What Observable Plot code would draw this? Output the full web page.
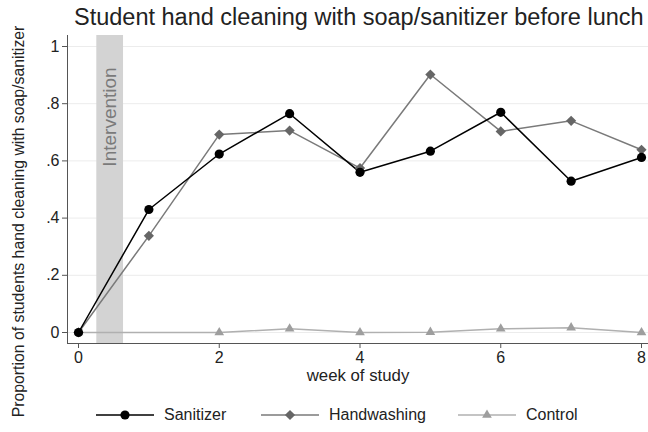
<!DOCTYPE html>
<html><head><meta charset="utf-8">
<script src="https://cdn.jsdelivr.net/npm/d3@7"></script>
<script src="https://cdn.jsdelivr.net/npm/@observablehq/plot@0.6"></script>
<style>
body{margin:0;background:#fff;font-family:"Liberation Sans",Arial,sans-serif;}
#wrap{position:relative;width:648px;height:432px;overflow:hidden;background:#fff}
#title{position:absolute;left:74px;top:3px;font-size:23.5px;color:#222;white-space:nowrap;line-height:28px}
#legend{position:absolute;top:403px;left:0;width:648px;height:24px;font-size:16px;color:#222}
.item{position:absolute;top:0;height:24px;display:flex;align-items:center}
.item svg{margin-right:10px}
</style></head><body>
<div id="wrap"><div id="chart"></div><div id="title"></div><div id="legend"></div></div>
<script>
const titleText = "Student hand cleaning with soap/sanitizer before lunch";
const yLabel = "Proportion of students hand cleaning with soap/sanitizer";
const xLabel = "week of study";
const weeks = [0,1,2,3,4,5,6,7,8];
const sanitizer = [0,0.43,0.624,0.765,0.56,0.634,0.770,0.529,0.612];
const handwashing = [0,0.338,0.692,0.706,0.575,0.902,0.703,0.740,0.639];
const controlWeeks = [0,2,3,4,5,6,7,8];
const control = [0,0,0.013,0,0.001,0.013,0.017,0];
const yTicks = [0,0.2,0.4,0.6,0.8,1];
const yTickLabels = ["0",".2",".4",".6",".8","1"];
const xTicks = [0,2,4,6,8];
const intervention = [{start:0.26,end:0.64,label:"Intervention",mid:0.7535}];
const series = ["Sanitizer","Handwashing","Control"];

const styles = {
  Sanitizer:{line:"#000",fill:"#000",symbol:"circle",r:4.6},
  Handwashing:{line:"#7a7a7a",fill:"#666",symbol:"diamond2",r:4.6},
  Control:{line:"#b0b0b0",fill:"#9e9e9e",symbol:"triangle",r:3.6}
};

const rows = [];
weeks.forEach((w,i)=>rows.push({week:w,value:sanitizer[i],group:"Sanitizer"}));
weeks.forEach((w,i)=>rows.push({week:w,value:handwashing[i],group:"Handwashing"}));
controlWeeks.forEach((w,i)=>rows.push({week:w,value:control[i],group:"Control"}));

const layerMarks = [];
for (const g of ["Control","Handwashing","Sanitizer"]) {
  const d = rows.filter(r=>r.group===g), s = styles[g];
  layerMarks.push(Plot.line(d,{x:"week",y:"value",stroke:s.line,strokeWidth:1.5}));
}
for (const g of ["Control","Handwashing","Sanitizer"]) {
  const d = rows.filter(r=>r.group===g), s = styles[g];
  layerMarks.push(Plot.dot(d,{x:"week",y:"value",symbol:()=>s.symbol,fill:s.fill,stroke:"none",r:s.r}));
}

const chart = Plot.plot({
  width:648, height:432,
  marginLeft:67, marginRight:0, marginTop:35, marginBottom:89,
  x:{domain:[0,8], range:[78,641]},
  y:{domain:[0,1], range:[332,46]},
  symbol:{domain:["circle","diamond2","triangle"],range:["circle","diamond2","triangle"]},
  style:{fontFamily:"'Liberation Sans', Arial, sans-serif", fontSize:"16px", color:"#222", background:"white"},
  marks:[
    Plot.ruleY(yTicks,{stroke:"#ececec",strokeWidth:1}),
    Plot.rect(intervention,{x1:"start",x2:"end",fill:"#d3d3d3"}),
    Plot.text(intervention,{x:d=>(d.start+d.end)/2,y:"mid",text:"label",rotate:-90,fill:"#7a7a7a",fontSize:19}),
    Plot.frame({anchor:"left",stroke:"#555"}),
    Plot.frame({anchor:"bottom",stroke:"#555"}),
    Plot.axisY({ticks:yTicks,tickFormat:d=>yTickLabels[yTicks.indexOf(d)],tickSize:5,tickPadding:3,label:null,stroke:"#555",fill:"#222",fontSize:16}),
    Plot.axisX({ticks:xTicks,tickFormat:d=>String(d),tickSize:5,tickPadding:3,label:null,stroke:"#555",fill:"#222",fontSize:16}),
    Plot.text([xLabel],{frameAnchor:"bottom",text:d=>d,dy:37,fill:"#222",fontSize:16.8}),
    Plot.text([yLabel],{frameAnchor:"left",textAnchor:"middle",text:d=>d,rotate:-90,dx:-49,dy:32,fill:"#222",fontSize:15.8}),
    ...layerMarks
  ]
});
document.getElementById("chart").appendChild(chart);
document.getElementById("title").textContent = titleText;

const legendPos = {Sanitizer:96,Handwashing:261,Control:458};
const leg = document.getElementById("legend");
for (const g of series) {
  const s = styles[g];
  const item = document.createElement("div");
  item.className = "item";
  item.style.left = legendPos[g]+"px";
  const svg = d3.create("svg").attr("width",58).attr("height",24);
  svg.append("line").attr("x1",0).attr("x2",58).attr("y1",12).attr("y2",12).attr("stroke",s.line).attr("stroke-width",1.5);
  const sym = s.symbol==="circle"?d3.symbolCircle:s.symbol==="diamond2"?d3.symbolDiamond2:d3.symbolTriangle;
  svg.append("path").attr("transform","translate(29,12)").attr("d",d3.symbol(sym,Math.PI*s.r*s.r)()).attr("fill",s.fill);
  item.appendChild(svg.node());
  const t = document.createElement("span");
  t.textContent = g;
  item.appendChild(t);
  leg.appendChild(item);
}
</script>
</body></html>
